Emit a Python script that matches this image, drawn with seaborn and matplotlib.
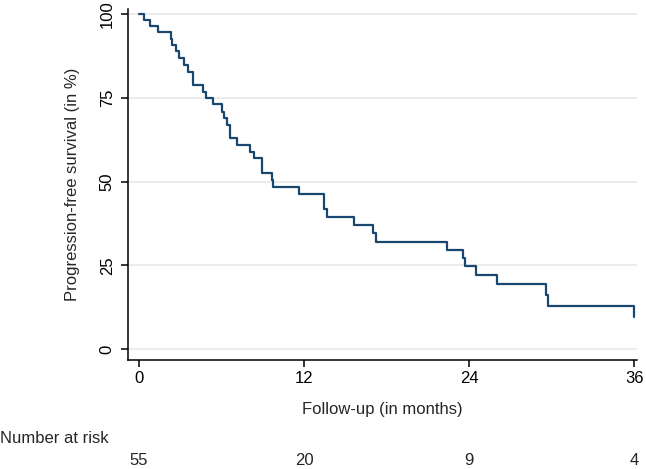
import numpy as np
import pandas as pd
import seaborn as sns
import matplotlib.pyplot as plt

#step times (months) and survival (%)
months = [0, 0.36, 0.80, 1.36, 2.31, 2.42, 2.67, 2.91, 3.29, 3.54, 3.95,
          4.68, 4.87, 5.40, 6.06, 6.20, 6.38, 6.62, 7.11, 8.07, 8.35,
          8.92, 9.65, 9.77, 11.64, 13.45, 13.70, 15.64, 17.04, 17.21,
          22.38, 23.59, 23.69, 24.49, 26.06, 29.60, 29.70, 36.0]
survival = [100, 98.3, 96.5, 94.6, 92.8, 91.0, 89.1, 86.9, 84.9, 82.9, 78.9,
            76.9, 74.9, 73.1, 70.9, 69.0, 67.0, 63.0, 61.0, 59.0, 57.0,
            52.7, 50.5, 48.5, 46.4, 41.8, 39.5, 37.0, 34.6, 32.1,
            29.6, 27.1, 24.7, 22.1, 19.4, 16.1, 12.9, 9.7]

risk_times = [0, 12, 24, 36]
at_risk = [55, 20, 9, 4]

df = pd.DataFrame({'months': months, 'survival': survival})

sns.set_style('white')
plt.rcParams['font.family'] = ['Liberation Sans', 'DejaVu Sans']

fig = plt.figure(figsize=(6.46, 4.69), dpi=100)
ax = fig.add_axes([0.198, 0.232, 0.788, 0.748])

#grid lines
for g in [0, 25, 50, 75, 100]:
    ax.axhline(g, color='#eaeaea', lw=1.3, zorder=0)

sns.lineplot(data=df, x='months', y='survival', estimator=None, sort=False,
             drawstyle='steps-post', color='#1a476f', lw=1.6, ax=ax)

ax.set_xlim(-0.8, 36.2)
ax.set_ylim(-3.3, 101.5)
ax.set_xticks(risk_times)
ax.set_yticks([0, 25, 50, 75, 100])
ax.set_yticklabels(['0', '25', '50', '75', '100'], rotation=90, va='center')
ax.tick_params(axis='both', direction='out', length=5, width=1.1, colors='black',
               labelsize=12, left=True, bottom=True)
ax.tick_params(axis='x', pad=3)
ax.tick_params(axis='y', pad=4.5)

for s in ['top', 'right']:
    ax.spines[s].set_visible(False)
for s in ['left', 'bottom']:
    ax.spines[s].set_color('black')
    ax.spines[s].set_linewidth(1.1)

ax.set_xlabel('Follow-up (in months)', fontsize=12, labelpad=11)
ax.set_ylabel('Progression-free survival (in %)', fontsize=12, labelpad=14)

#number at risk table
trans = ax.get_xaxis_transform()
fig.text(0.0, (469 - 438) / 469, 'Number at risk', fontsize=12, ha='left', va='center')
for t, n in zip(risk_times, at_risk):
    ax.text(t, (360 - 460) / 350.7, str(n), transform=trans, fontsize=12,
            ha='center', va='center', clip_on=False)

plt.savefig('out.png', dpi=100)
